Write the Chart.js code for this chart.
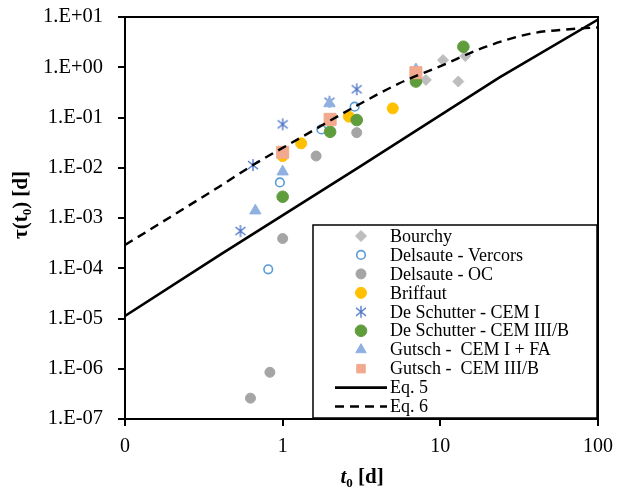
<!DOCTYPE html>
<html>
<head>
<meta charset="utf-8">
<script src="https://cdn.jsdelivr.net/npm/chart.js@4/dist/chart.umd.min.js"></script>
<style>
  html, body { margin: 0; padding: 0; background: #fff; }
  #wrap { width: 621px; height: 493px; position: relative; }
</style>
</head>
<body>
<div id="wrap"><canvas id="chart"></canvas></div>
<script>
// tick values
const xTicks = [0.1, 1, 10, 100];
const yTicks = [1e-7, 1e-6, 1e-5, 1e-4, 1e-3, 1e-2, 1e-1, 1, 10];

// measured data, [t0, tau]
const bourchy = [[8.1, 0.56], [10.4, 1.39], [13.0, 0.52], [14.4, 1.67]];
const delsauteVercors = [[0.81, 9.5e-5], [0.96, 0.0051], [1.76, 0.058], [2.86, 0.164]];
const delsauteOC = [[0.625, 2.6e-7], [0.83, 8.5e-7], [1.0, 3.9e-4], [1.63, 0.0171], [2.95, 0.05]];
const briffaut = [[1.0, 0.0171], [1.31, 0.0306], [2.63, 0.104], [4.99, 0.152]];
const deSchutterI = [[0.54, 5.5e-4], [0.648, 0.0113], [1.0, 0.073], [1.98, 0.206], [2.95, 0.364]];
const deSchutterIII = [[1.0, 0.00265], [2.0, 0.052], [2.95, 0.089], [7.0, 0.52], [14.0, 2.56]];
const gutschFA = [[0.671, 0.0014], [1.0, 0.00836], [1.98, 0.19], [7.0, 0.9]];
const gutschIII = [[1.0, 0.0203], [2.0, 0.092], [7.0, 0.78]];

// equation curves
const eq5 = [[0.1, 1.12e-5], [0.4, 1.84e-4], [3.07, 0.0104], [23.6, 0.62], [100, 8.9]];
const eq6 = [[0.1, 2.9e-4], [0.4, 4.3e-3], [0.648, 0.0113], [1.28, 0.0386], [3.0, 0.177], [5.5, 0.48],
             [9.86, 1.03], [19.5, 2.56], [38.4, 4.74], [68.7, 5.77], [100, 6.2]];

const toXY = arr => arr.map(p => ({ x: p[0], y: p[1] }));

// asterisk marker (vertical bar + X)
function makeAsterisk(color) {
  const c = document.createElement('canvas');
  c.width = 14; c.height = 14;
  const g = c.getContext('2d');
  g.strokeStyle = color;
  g.lineWidth = 1.3;
  g.beginPath();
  g.moveTo(7, 1); g.lineTo(7, 13);
  g.moveTo(2, 3); g.lineTo(12, 11);
  g.moveTo(2, 11); g.lineTo(12, 3);
  g.stroke();
  return c;
}
const asterisk = makeAsterisk('#4a72c8');

const serif = "'Liberation Serif', 'Times New Roman', serif";

const series = [
  { label: 'Bourchy', data: bourchy, style: 'rectRot', radius: 5.5, bg: '#bdbdbd', border: '#bdbdbd' },
  { label: 'Delsaute - Vercors', data: delsauteVercors, style: 'circle', radius: 4.3, bg: 'rgba(0,0,0,0)', border: '#5b9bd5', bw: 1.6 },
  { label: 'Delsaute - OC', data: delsauteOC, style: 'circle', radius: 5, bg: '#a5a5a5', border: '#a5a5a5' },
  { label: 'Briffaut', data: briffaut, style: 'circle', radius: 5.5, bg: '#ffc000', border: '#ffc000' },
  { label: 'De Schutter - CEM I', data: deSchutterI, style: asterisk, radius: 6, bg: '#4a72c8', border: '#4a72c8' },
  { label: 'De Schutter - CEM III/B', data: deSchutterIII, style: 'circle', radius: 5.8, bg: '#5e9c3c', border: '#5e9c3c' },
  { label: 'Gutsch -  CEM I + FA', data: gutschFA, style: 'triangle', radius: 6.5, bg: '#8fb0e0', border: '#8fb0e0' },
  { label: 'Gutsch -  CEM III/B', data: gutschIII, style: 'rect', radius: 8.5, bg: '#f2a98d', border: '#f2a98d' }
];

const datasets = series.map((s, i) => ({
  label: s.label,
  data: toXY(s.data),
  pointStyle: s.style,
  pointRadius: s.radius,
  pointHoverRadius: s.radius,
  pointBackgroundColor: s.bg,
  pointBorderColor: s.border,
  pointBorderWidth: s.bw || 1,
  showLine: false,
  order: 20 - i
}));

datasets.push({
  label: 'Eq. 5', data: toXY(eq5), showLine: true, pointRadius: 0,
  borderColor: '#000', borderWidth: 2.6, fill: false, order: 2
});
datasets.push({
  label: 'Eq. 6', data: toXY(eq6), showLine: true, pointRadius: 0, cubicInterpolationMode: 'monotone',
  borderColor: '#000', borderWidth: 2.4, borderDash: [9, 6], fill: false, order: 1
});

// frame on top/right + titles + legend box
const extras = {
  id: 'extras',
  afterDatasetsDraw(chart) {
    const ctx = chart.ctx, a = chart.chartArea;
    ctx.save();
    ctx.strokeStyle = '#000';
    ctx.lineWidth = 2;
    ctx.beginPath();
    ctx.moveTo(a.left, a.top);
    ctx.lineTo(a.right, a.top);
    ctx.lineTo(a.right, a.bottom);
    ctx.stroke();
    ctx.restore();
  },
  afterDraw(chart) {
    const ctx = chart.ctx;
    ctx.save();
    ctx.fillStyle = '#000';
    ctx.textBaseline = 'alphabetic';

    // x title
    const big = 'bold 21px ' + serif, sub = 'bold 13px ' + serif;
    ctx.font = 'italic ' + big;
    const wt = ctx.measureText('t').width;
    ctx.font = sub;
    const w0 = ctx.measureText('0').width;
    ctx.font = big;
    const wr = ctx.measureText(' [d]').width;
    let x = 362 - (wt + w0 + wr) / 2;
    const yb = 483;
    ctx.font = 'italic ' + big; ctx.fillText('t', x, yb); x += wt;
    ctx.font = sub; ctx.fillText('0', x, yb + 4); x += w0;
    ctx.font = big; ctx.fillText(' [d]', x, yb);

    // y title
    ctx.save();
    ctx.translate(27, 205);
    ctx.rotate(-Math.PI / 2);
    ctx.font = big;
    const a1 = ctx.measureText('τ(t').width;
    const a3 = ctx.measureText(') [d]').width;
    ctx.font = sub;
    const a2 = ctx.measureText('0').width;
    let p = -(a1 + a2 + a3) / 2;
    ctx.font = big; ctx.fillText('τ(t', p, 0); p += a1;
    ctx.font = sub; ctx.fillText('0', p, 4); p += a2;
    ctx.font = big; ctx.fillText(') [d]', p, 0);
    ctx.restore();

    // legend
    const lx = 313, ly = 225, lw = 284, lh = 193;
    ctx.fillStyle = '#fff';
    ctx.fillRect(lx, ly, lw, lh);
    ctx.strokeStyle = '#000';
    ctx.lineWidth = 1.5;
    ctx.strokeRect(lx, ly, lw, lh);
    ctx.font = '18px ' + serif;
    ctx.textBaseline = 'middle';
    const step = 18.95;
    chart.data.datasets.forEach((ds, i) => {
      const cy = 236 + i * step;
      if (ds.showLine) {
        ctx.save();
        ctx.strokeStyle = '#000';
        ctx.lineWidth = 2.6;
        ctx.setLineDash(ds.borderDash || []);
        ctx.beginPath();
        ctx.moveTo(335, cy);
        ctx.lineTo(387, cy);
        ctx.stroke();
        ctx.restore();
      } else {
        ctx.save();
        ctx.fillStyle = ds.pointBackgroundColor;
        ctx.strokeStyle = ds.pointBorderColor;
        ctx.lineWidth = ds.pointBorderWidth;
        Chart.helpers.drawPoint(ctx, {
          pointStyle: ds.pointStyle,
          radius: Math.min(ds.pointRadius, 6),
          rotation: 0,
          borderWidth: ds.pointBorderWidth
        }, 361, cy);
        ctx.restore();
      }
      ctx.fillStyle = '#000';
      ctx.fillText(ds.label, 390, cy + 1);
    });
    ctx.restore();
  }
};

new Chart(document.getElementById('chart'), {
  type: 'scatter',
  data: { datasets },
  options: {
    responsive: true,
    maintainAspectRatio: false,
    animation: false,
    layout: { autoPadding: false, padding: { left: 0, top: 17, right: 23, bottom: 0 } },
    plugins: { legend: { display: false }, tooltip: { enabled: false } },
    scales: {
      x: {
        type: 'logarithmic',
        min: 0.1,
        max: 100,
        afterBuildTicks: s => { s.ticks = xTicks.map(v => ({ value: v })); },
        afterFit: s => { s.height = 74; s.paddingLeft = 0; s.paddingRight = 0; },
        ticks: {
          autoSkip: false,
          maxRotation: 0,
          padding: 9,
          color: '#000',
          font: { family: serif, size: 20 },
          callback: v => (v < 1 ? '0' : String(Math.round(v)))
        },
        grid: { drawOnChartArea: false, drawTicks: true, tickLength: 7, color: '#000', lineWidth: 2 },
        border: { display: true, color: '#000', width: 2 }
      },
      y: {
        type: 'logarithmic',
        min: 1e-7,
        max: 10,
        afterBuildTicks: s => { s.ticks = yTicks.map(v => ({ value: v })); },
        afterFit: s => { s.width = 125; s.paddingTop = 0; s.paddingBottom = 0; },
        ticks: {
          autoSkip: false,
          padding: 15,
          color: '#000',
          font: { family: serif, size: 20.5 },
          callback: v => {
            const e = Math.round(Math.log10(v));
            return '1.E' + (e < 0 ? '-' : '+') + String(Math.abs(e)).padStart(2, '0');
          }
        },
        grid: { drawOnChartArea: false, drawTicks: true, tickLength: 7, color: '#000', lineWidth: 2 },
        border: { display: true, color: '#000', width: 2 }
      }
    }
  },
  plugins: [extras]
});
</script>
</body>
</html>
